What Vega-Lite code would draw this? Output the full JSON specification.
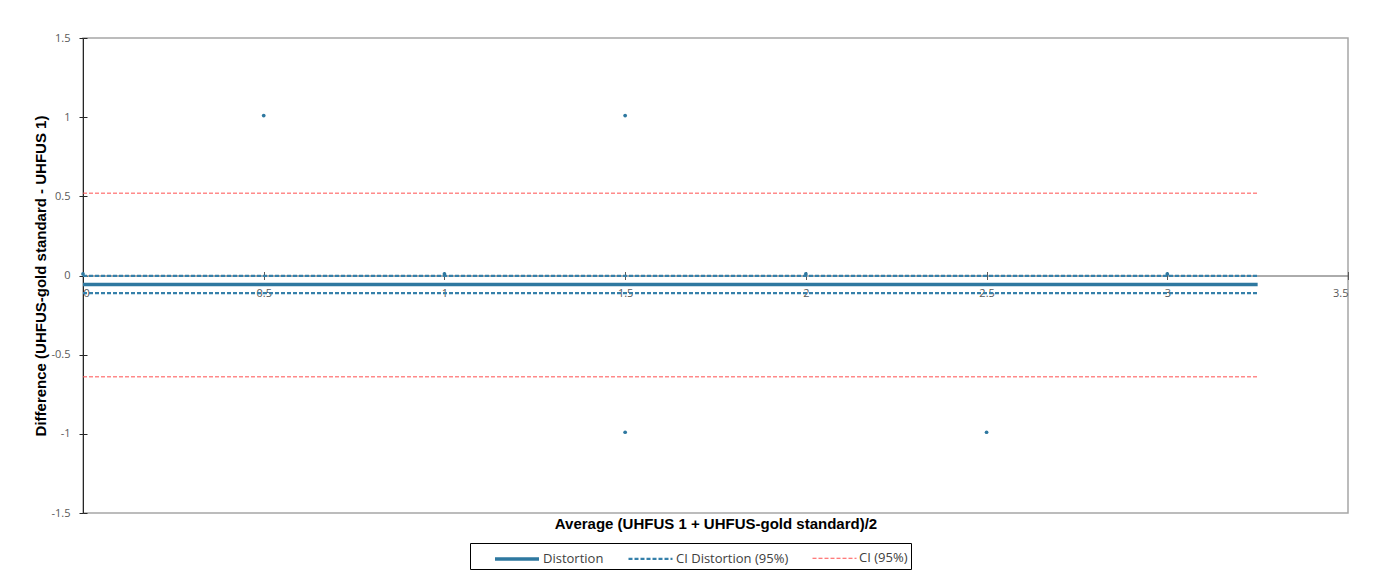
{
  "$schema": "https://vega.github.io/schema/vega-lite/v6.json",
  "width": 1265,
  "height": 475,
  "autosize": {"type": "none"},
  "padding": {"left": 83, "top": 38, "right": 32, "bottom": 59},
  "background": "white",
  "config": {
    "view": {"stroke": "#A6A6A6", "strokeWidth": 1.5},
    "axis": {
      "grid": false,
      "labelFont": "Open Sans",
      "labelFontSize": 11,
      "labelColor": "#595959",
      "titleFont": "Liberation Sans",
      "titleFontSize": 15,
      "titleFontWeight": "bold",
      "titleColor": "#000000"
    },
    "legend": {
      "orient": "none",
      "legendX": 387,
      "legendY": 505,
      "direction": "horizontal",
      "symbolType": "M-1,0H3",
      "symbolSize": 484,
      "symbolOffset": 20,
      "labelOffset": 24,
      "labelFont": "Open Sans",
      "labelFontSize": 13,
      "labelColor": "#404040",
      "strokeColor": "#000000",
      "padding": 3,
      "columnPadding": 3
    }
  },
  "layer": [
    {
      "data": {
        "values": [
          {"series": "Distortion", "x0": 0, "x1": 3.25, "y": -0.057},
          {"series": "CI Distortion (95%)", "x0": 0, "x1": 3.25, "y": -0.003},
          {"series": "CI Distortion (95%)", "x0": 0, "x1": 3.25, "y": -0.111},
          {"series": "CI (95%)", "x0": 0, "x1": 3.25, "y": 0.52},
          {"series": "CI (95%)", "x0": 0, "x1": 3.25, "y": -0.64}
        ]
      },
      "mark": {"type": "rule", "clip": false},
      "encoding": {
        "x": {
          "field": "x0",
          "type": "quantitative",
          "scale": {"domain": [0, 3.5], "nice": false, "zero": false},
          "axis": {
            "orient": "bottom",
            "offset": -237.5,
            "values": [0, 0.5, 1, 1.5, 2, 2.5, 3, 3.5],
            "labelExpr": "replace(format(datum.value, '~g'), '\u2212', '-')",
            "tickSize": 4,
            "tickColor": "#595959",
            "domainColor": "#595959",
            "labelPadding": 8,
            "title": "Average (UHFUS 1 + UHFUS-gold standard)/2",
            "titleY": 247.5,
            "titleBaseline": "middle"
          }
        },
        "x2": {"field": "x1"},
        "y": {
          "field": "y",
          "type": "quantitative",
          "scale": {"domain": [-1.5, 1.5], "nice": false, "zero": false},
          "axis": {
            "orient": "left",
            "values": [-1.5, -1, -0.5, 0, 0.5, 1, 1.5],
            "labelExpr": "replace(format(datum.value, '~g'), '\u2212', '-')",
            "tickSize": 4,
            "tickColor": "#262626",
            "domainColor": "#262626",
            "labelPadding": 9,
            "title": "Difference (UHFUS-gold standard - UHFUS 1)",
            "titleX": -43,
            "titleY": 237.5,
            "titleAngle": 270,
            "titleBaseline": "middle",
            "titleAlign": "center"
          }
        },
        "color": {
          "field": "series",
          "type": "nominal",
          "scale": {"domain": ["Distortion", "CI Distortion (95%)", "CI (95%)"], "range": ["#2E78A0", "#3580AA", "#FF5050"]},
          "legend": {"title": null}
        },
        "strokeDash": {
          "field": "series",
          "type": "nominal",
          "scale": {"domain": ["Distortion", "CI Distortion (95%)", "CI (95%)"], "range": [[1, 0], [4, 2], [4, 2]]},
          "legend": {"title": null}
        },
        "strokeWidth": {
          "field": "series",
          "type": "nominal",
          "scale": {"domain": ["Distortion", "CI Distortion (95%)", "CI (95%)"], "range": [3.5, 1, 1.2]},
          "legend": {"title": null}
        }
      }
    },
    {
      "data": {
        "values": [
          {"a": 0, "d": 0.01},
          {"a": 0.5, "d": 1.01},
          {"a": 1, "d": 0.01},
          {"a": 1.5, "d": 1.01},
          {"a": 1.5, "d": -0.99},
          {"a": 2, "d": 0.01},
          {"a": 2.5, "d": -0.99},
          {"a": 3, "d": 0.01}
        ]
      },
      "mark": {"type": "point", "filled": true, "size": 14, "color": "#2E78A0", "opacity": 1, "clip": false},
      "encoding": {
        "x": {
          "field": "a",
          "type": "quantitative",
          "axis": {
            "orient": "top",
            "offset": -237.5,
            "values": [0, 0.5, 1, 1.5, 2, 2.5, 3, 3.5],
            "labels": false,
            "domain": false,
            "tickSize": 4,
            "tickColor": "#595959",
            "title": null
          }
        },
        "y": {
          "field": "d",
          "type": "quantitative",
          "axis": {
            "orient": "right",
            "offset": -1265,
            "values": [-1.5, -1, -0.5, 0, 0.5, 1, 1.5],
            "labels": false,
            "domain": false,
            "tickSize": 4,
            "tickColor": "#262626",
            "title": null
          }
        }
      }
    }
  ],
  "resolve": {"axis": {"x": "independent", "y": "independent"}}
}
